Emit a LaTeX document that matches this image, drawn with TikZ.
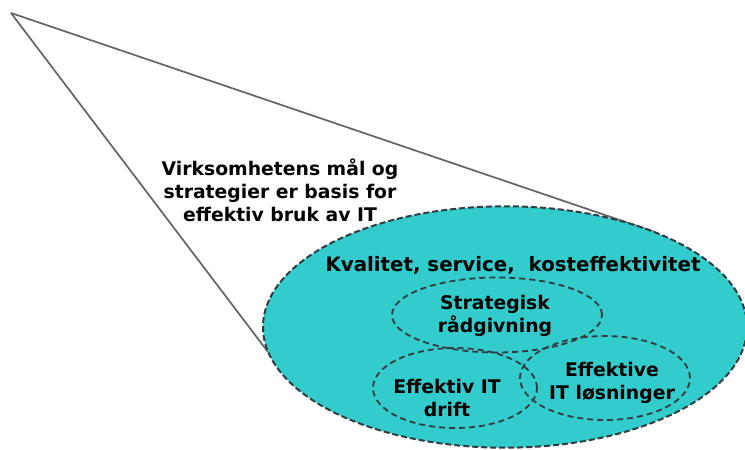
\documentclass[tikz,border=0pt]{standalone}
\usepackage{fontspec}
\usetikzlibrary{shapes.geometric}
\setmainfont{DejaVu Sans}
\definecolor{cyanfill}{RGB}{51,204,204}
\definecolor{edgegray}{RGB}{50,60,65}
\definecolor{linegray}{RGB}{100,100,100}
\begin{document}
\begin{tikzpicture}[x=1pt,y=-1pt,
  bigell/.style={draw=edgegray,dash pattern=on 6pt off 3pt,line width=2pt,fill=cyanfill},
  smallell/.style={draw=edgegray,dash pattern=on 6pt off 4pt,line width=1.8pt},
  lbl/.style={font=\bfseries\fontsize{18.8}{23}\selectfont,align=center,text=black,inner sep=0pt},
  ray/.style={draw=linegray,line width=1.7pt}]
\useasboundingbox (0,0) rectangle (745,450);
\fill[white] (0,0) rectangle (745,450);
\coordinate (apex) at (11,13);
\coordinate (t1) at (655,232);
\coordinate (t2) at (268,352);
\draw[ray] (apex) -- (t1);
\draw[ray] (apex) -- (t2);
\node[bigell,ellipse,minimum width=484,minimum height=241.4,inner sep=0pt] (big) at (505,327) {};
\node[smallell,ellipse,minimum width=210,minimum height=75,inner sep=0pt] (strat) at (497,315) {};
\node[smallell,ellipse,minimum width=164,minimum height=80,inner sep=0pt] (drift) at (455,388) {};
\node[smallell,ellipse,minimum width=170,minimum height=84,inner sep=0pt] (losn) at (605,378) {};
\node[lbl] (goal) at (280,190) {Virksomhetens mål og\\strategier er basis for\\effektiv bruk av IT};
\node[lbl,font=\bfseries\fontsize{19.8}{23}\selectfont] (kval) at (513,265) {Kvalitet, service,\ \ kosteffektivitet};
\node[lbl] (stxt) at (495,316) {Strategisk\\rådgivning};
\node[lbl] (dtxt) at (447,398) {Effektiv IT\\drift};
\node[lbl] (ltxt) at (612,383) {Effektive\\IT løsninger};
\end{tikzpicture}
\end{document}
